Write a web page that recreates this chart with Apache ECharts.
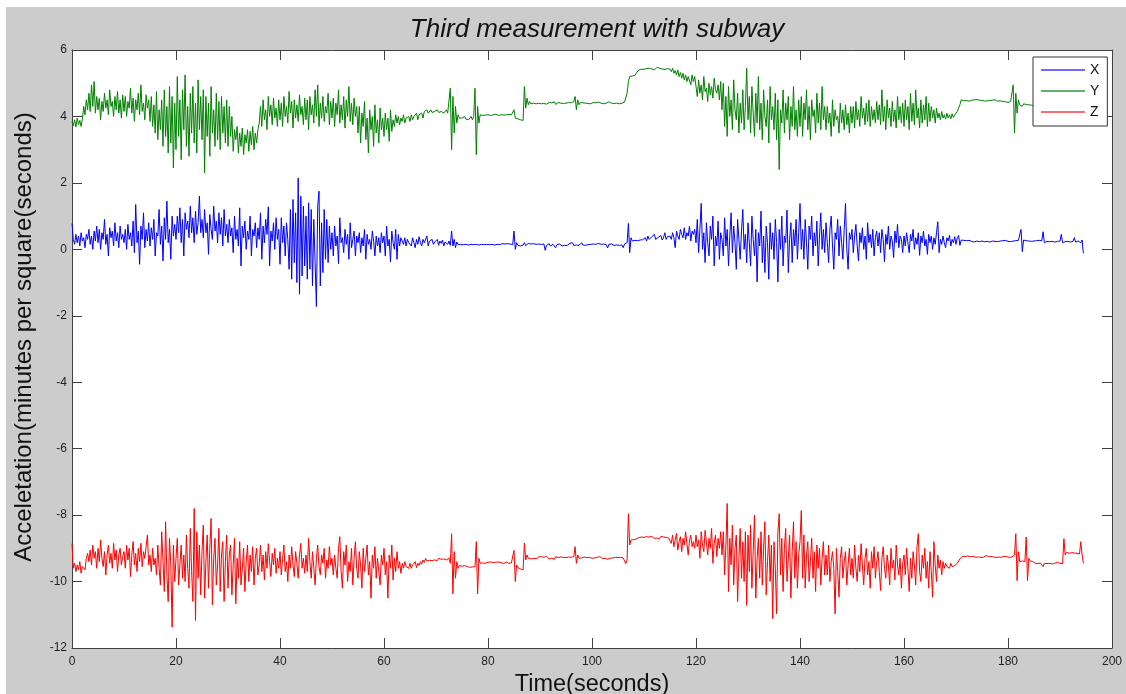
<!DOCTYPE html>
<html>
<head>
<meta charset="utf-8">
<script src="https://cdn.jsdelivr.net/npm/echarts@6/dist/echarts.min.js"></script>
<style>
html,body{margin:0;padding:0;background:#fff;}
#chart{width:1126px;height:694px;}
</style>
</head>
<body>
<div id="chart"></div>
<script>
// Sample spacing (seconds) of the values
const sampleStep = 0.25;

const seriesNames = ['X', 'Y', 'Z'];
const xTicks = [0, 20, 40, 60, 80, 100, 120, 140, 160, 180, 200];
const yTicks = [-12, -10, -8, -6, -4, -2, 0, 2, 4, 6];

const accX = [
 0.78,0.3,0.15,0.45,0.2,0.4,0.1,0.5,0.25,0.35,0.05,0.45,0.3,0.6,0.15,0.4,0.0,0.55,0.25,0.7,
 0.2,0.6,0.0,0.5,0.3,0.9,0.15,0.45,-0.2,0.65,0.35,0.55,0.1,0.8,0.25,0.5,0.05,0.7,0.3,0.45,
 0.2,0.6,0.0,0.75,0.3,0.5,0.1,0.85,-0.1,1.35,0.2,0.55,-0.45,0.7,0.3,1.1,0.05,0.6,0.25,0.8,
 0.1,0.65,0.3,0.9,-0.2,0.5,0.4,1.2,0.15,0.7,-0.35,0.95,0.3,1.45,0.2,0.6,-0.3,1.0,0.4,0.75,
 0.3,1.0,0.5,1.25,0.2,0.9,-0.2,1.1,0.6,0.85,0.35,1.3,0.5,0.95,0.2,1.15,0.45,0.8,1.6,0.5,
 0.9,0.35,1.2,0.5,0.8,-0.15,1.05,0.6,0.3,1.3,0.55,0.85,0.2,1.1,0.45,0.95,0.1,1.2,0.4,0.75,
 0.2,0.9,0.4,0.65,-0.1,1.0,0.3,0.6,0.1,1.25,-0.5,0.7,0.35,0.85,0.0,0.55,0.3,1.0,-0.2,0.6,
 0.4,0.8,0.05,0.65,0.3,1.1,-0.3,0.7,0.2,0.9,0.45,1.28,-0.5,0.55,0.25,0.8,0.0,0.95,0.3,0.6,
 -0.45,0.95,0.2,0.7,-0.2,0.8,0.3,-0.6,1.2,-0.9,1.5,-0.4,1.1,-1.0,2.15,-1.35,1.6,-0.8,1.3,-0.5,
 1.0,-0.9,1.4,-0.6,1.2,-1.1,0.9,-0.4,-1.72,1.3,1.75,-1.1,0.8,-0.7,1.2,-0.3,0.9,-0.4,0.7,0.0,
 0.5,-0.2,0.7,0.1,0.4,-0.43,0.95,0.2,0.35,-0.1,0.6,0.15,0.45,-0.3,0.8,0.05,0.3,0.55,-0.2,0.4,
 0.2,0.5,-0.1,0.35,0.1,0.6,-0.3,0.45,0.15,0.3,0.0,0.55,0.25,-0.2,0.4,0.1,0.35,-0.1,0.5,0.2,
 0.4,-0.2,0.7,0.1,0.3,-0.38,0.55,0.2,0.0,0.6,-0.3,0.45,0.1,0.35,0.25,0.15,0.35,0.1,0.3,0.2,
 0.25,0.1,0.35,0.2,0.05,0.3,0.15,0.38,0.2,0.1,0.3,0.2,0.15,0.4,0.1,0.25,0.2,0.3,0.15,0.22,
 0.2,0.3,0.12,0.25,0.18,0.28,0.1,0.22,0.2,0.15,0.25,0.12,0.55,0.1,0.3,0.05,0.22,0.15,0.18,0.14,
 0.17,0.14,0.18,0.15,0.16,0.13,0.17,0.15,0.18,0.14,0.16,0.15,0.17,0.13,0.16,0.15,0.18,0.14,0.16,0.15,
 0.16,0.14,0.17,0.15,0.16,0.13,0.17,0.15,0.16,0.14,0.15,0.17,0.14,0.16,0.15,0.17,0.14,0.16,0.15,0.14,
 0.55,0.0,0.2,0.12,0.18,0.1,0.16,0.13,0.2,0.11,0.15,0.18,0.12,0.16,0.1,0.17,0.13,0.15,0.12,0.16,
 0.12,0.15,0.1,0.16,-0.03,0.12,0.14,0.17,0.1,0.13,0.15,0.11,0.05,0.14,0.12,0.16,0.13,0.1,0.15,0.12,
 0.14,0.12,0.16,0.18,0.13,0.2,0.12,0.15,0.13,0.17,0.12,0.16,0.2,0.13,0.15,0.12,0.16,0.14,0.12,0.15,
 0.13,0.16,0.12,0.15,0.14,0.18,0.12,0.15,0.13,0.16,0.12,0.14,0.04,0.15,0.13,0.16,0.14,0.12,0.15,0.13,
 0.14,0.12,0.15,0.13,0.05,0.16,0.14,0.2,0.78,-0.1,0.35,0.25,0.3,0.27,0.29,0.26,0.3,0.28,0.27,0.29,
 0.3,0.35,0.25,0.4,0.3,0.28,0.38,0.33,0.45,0.3,0.25,0.36,0.32,0.42,0.28,0.35,0.5,0.3,0.38,0.34,
 0.4,0.3,0.5,0.35,0.05,0.55,0.4,0.3,0.6,0.45,0.35,0.65,0.3,0.5,0.4,0.7,0.25,0.55,0.45,0.6,
 0.2,0.9,-0.1,0.6,1.38,0.0,0.5,-0.4,0.8,0.2,-0.2,0.7,0.3,1.0,-0.5,0.4,0.1,0.85,-0.3,0.5,
 0.3,-0.2,0.95,0.1,0.6,-0.5,0.4,1.1,-0.1,0.7,0.2,-0.6,0.9,0.3,-0.3,0.55,1.2,0.0,0.45,-0.4,
 0.8,0.2,-0.5,1.0,0.3,-0.2,0.6,-0.98,0.5,0.1,1.15,-0.4,0.4,-0.7,0.7,0.2,-0.9,0.8,0.0,0.5,
 -0.3,0.9,0.2,-0.98,0.6,0.0,1.0,-0.5,0.4,0.2,1.18,-0.7,0.3,0.8,-0.4,0.6,0.1,0.9,-0.3,0.5,
 1.38,0.0,0.6,-0.3,0.9,0.2,-0.6,0.7,0.3,1.0,-0.2,0.5,0.1,0.85,-0.5,0.4,1.1,0.0,0.6,-0.1,
 0.8,0.2,-0.4,0.6,1.0,0.1,-0.6,0.5,0.3,0.9,-0.2,0.7,0.2,-0.3,0.6,1.38,0.0,-0.6,0.5,0.3,
 0.6,-0.1,0.4,0.75,0.1,-0.35,0.5,0.2,0.65,0.0,0.4,-0.3,0.8,0.2,0.45,0.05,0.6,-0.2,0.35,0.55,
 0.1,0.5,-0.1,0.6,0.3,-0.38,0.45,0.15,0.7,0.0,0.4,0.25,-0.25,0.55,0.2,0.75,0.05,0.4,0.3,-0.1,
 0.4,0.1,0.5,0.2,-0.1,0.45,0.25,0.6,0.0,0.35,0.15,0.5,-0.18,0.4,0.2,0.55,0.1,0.3,-0.15,0.45,
 0.2,0.4,0.0,0.35,0.15,0.5,0.83,-0.1,0.3,0.15,0.4,0.2,0.05,0.35,0.25,0.42,0.1,0.3,0.2,0.38,
 0.15,0.35,0.42,0.12,0.28,0.22,0.27,0.24,0.26,0.23,0.27,0.25,0.24,0.28,0.22,0.26,0.25,0.27,0.23,0.26,
 0.25,0.27,0.23,0.26,0.24,0.28,0.22,0.26,0.25,0.27,0.24,0.26,0.23,0.27,0.25,0.24,0.26,0.22,0.27,0.25,
 0.24,0.26,0.23,0.27,0.25,0.24,0.26,0.23,0.27,0.25,0.6,-0.07,0.28,0.24,0.26,0.23,0.25,0.27,0.24,0.26,
 0.25,0.23,0.26,0.24,0.27,0.22,0.26,0.53,0.2,0.25,0.24,0.27,0.23,0.26,0.24,0.25,0.22,0.27,0.24,0.26,
 0.25,0.45,0.2,0.26,0.23,0.27,0.24,0.3,0.22,0.26,0.24,0.35,0.22,0.27,0.25,0.3,0.2,0.28,-0.12
];

const accY = [
 3.85,3.72,3.9,3.68,3.95,3.75,3.88,3.7,3.92,4.3,4.05,4.5,4.2,4.7,4.15,4.95,4.3,5.05,4.1,4.6,
 4.2,4.55,3.9,4.45,4.15,4.7,4.25,4.5,4.05,4.8,4.3,4.45,4.0,4.6,4.2,4.75,4.1,4.5,3.95,4.65,
 4.15,4.6,4.0,4.45,4.25,4.85,4.1,4.55,3.85,4.5,4.2,4.7,4.05,4.95,4.15,4.4,3.9,4.65,4.25,4.5,
 3.85,4.6,3.7,4.35,3.5,4.75,3.3,4.2,3.6,4.5,3.1,4.8,3.4,4.3,2.9,4.9,3.2,4.6,2.45,4.4,
 3.0,5.2,3.4,4.5,2.7,4.8,3.6,5.25,3.1,4.3,2.8,4.7,3.5,4.9,3.2,4.4,2.9,5.1,3.6,4.6,
 3.3,4.8,2.3,4.6,3.4,4.4,2.8,4.9,3.5,4.2,3.1,4.7,3.3,4.45,3.0,4.6,3.5,4.3,3.2,4.5,
 3.1,4.3,3.4,4.0,2.95,3.6,3.3,3.7,2.9,3.5,3.1,3.65,2.85,3.45,3.2,3.6,2.95,3.55,3.15,3.7,
 3.0,3.5,3.2,3.6,3.8,4.3,3.7,4.5,3.9,4.2,3.6,4.6,4.0,4.35,3.75,4.55,3.95,4.25,3.7,4.5,
 3.9,4.4,3.7,4.6,4.0,4.3,3.8,4.75,4.1,4.45,3.65,4.5,3.95,4.35,3.85,4.65,4.05,4.3,3.75,4.55,
 3.9,4.5,3.6,4.6,4.05,4.35,3.8,4.8,4.0,4.95,3.7,4.4,3.95,4.6,3.85,4.3,4.1,4.7,3.75,4.45,
 3.95,4.55,3.7,4.4,4.05,4.8,3.8,4.35,3.9,4.6,3.65,4.5,4.0,4.9,3.85,4.4,3.75,4.55,4.0,4.3,
 3.5,4.3,3.2,4.1,3.7,4.45,3.3,3.95,2.9,4.2,3.6,4.0,3.1,4.35,3.5,3.9,3.2,4.25,3.6,3.95,
 3.4,4.1,3.6,3.95,3.25,4.2,3.55,3.9,3.7,4.05,3.8,4.0,3.75,3.95,3.85,4.05,3.8,3.95,3.9,4.0,
 3.85,4.05,3.9,4.0,3.95,4.1,3.9,4.05,4.0,4.1,3.95,4.15,4.1,4.2,4.1,4.15,4.2,4.12,4.18,4.15,
 4.15,4.2,4.12,4.18,4.15,4.2,4.1,4.15,4.2,4.1,4.15,4.85,3.0,4.6,3.5,4.3,3.8,4.05,3.95,4.0,
 3.95,3.9,4.0,3.92,3.97,3.9,3.95,4.0,3.9,4.0,4.85,2.85,4.3,3.8,4.05,4.08,4.03,4.06,4.04,4.07,
 4.05,4.07,4.03,4.06,4.05,4.04,4.07,4.05,4.03,4.06,4.05,4.07,4.04,4.06,4.05,4.03,4.06,4.04,4.05,4.0,
 4.2,3.95,4.0,3.93,3.95,3.9,3.92,3.88,4.9,4.25,4.55,4.35,4.45,4.38,4.42,4.4,4.43,4.38,4.41,4.4,
 4.42,4.38,4.41,4.39,4.43,4.37,4.4,4.42,4.38,4.41,4.39,4.44,4.36,4.4,4.42,4.38,4.4,4.43,4.39,4.41,
 4.4,4.38,4.42,4.39,4.41,4.37,4.45,4.6,4.2,4.5,4.35,4.42,4.39,4.41,4.38,4.4,4.42,4.39,4.41,4.38,
 4.4,4.42,4.38,4.41,4.39,4.43,4.38,4.4,4.41,4.38,4.42,4.4,4.39,4.44,4.38,4.4,4.42,4.39,4.41,4.4,
 4.41,4.38,4.42,4.4,4.39,4.43,4.45,4.7,5.05,5.2,5.17,5.22,5.18,5.23,5.3,5.36,5.4,5.38,5.42,5.4,
 5.42,5.38,5.44,5.41,5.45,5.39,5.43,5.46,5.4,5.44,5.48,5.42,5.45,5.5,5.43,5.47,5.41,5.46,5.44,5.4,
 5.42,5.35,5.45,5.3,5.38,5.25,5.4,5.2,5.32,5.15,5.3,5.1,5.25,5.05,5.2,5.15,4.95,5.25,5.05,5.2,
 4.9,4.6,5.1,4.7,4.95,4.5,5.2,4.75,4.85,4.45,5.0,4.65,4.9,4.55,5.15,4.8,4.7,4.95,4.5,5.05,
 4.2,5.0,3.7,4.6,3.4,4.9,4.0,4.5,3.6,5.1,4.2,3.9,4.7,3.5,4.4,3.8,4.8,3.6,4.3,5.45,
 3.9,4.6,3.5,4.9,4.1,3.4,4.7,3.8,5.2,3.6,4.4,3.3,4.8,4.0,3.7,4.5,3.2,4.9,3.9,4.3,
 3.6,4.7,3.3,4.5,2.4,4.2,3.8,4.8,3.5,4.4,3.9,4.6,3.3,4.3,3.7,4.9,3.6,4.2,3.4,4.5,
 3.7,4.6,3.4,4.4,3.9,4.8,3.6,4.3,3.3,4.5,4.0,4.2,3.5,4.7,3.8,4.4,3.6,4.9,3.9,4.3,
 3.6,4.3,3.8,4.1,3.4,4.5,3.7,4.2,3.9,4.0,3.5,4.4,3.8,4.2,3.6,4.35,3.75,4.1,3.5,4.3,
 3.8,4.3,3.65,4.45,3.9,4.2,3.7,4.6,3.95,4.25,3.75,4.4,3.85,4.5,3.7,4.3,3.9,4.2,3.8,4.45,
 3.9,4.35,3.75,4.8,3.85,4.3,3.6,4.5,3.95,4.25,3.7,4.45,3.85,4.2,3.65,4.6,3.9,4.3,3.8,4.4,
 3.7,4.5,3.9,4.3,3.6,4.7,3.85,4.4,3.75,4.8,3.95,4.25,3.65,4.5,3.8,4.35,3.9,4.6,3.7,4.4,
 3.85,4.3,3.95,4.2,3.8,4.25,3.95,4.1,3.9,4.15,3.95,4.05,3.92,4.1,3.95,4.05,3.93,4.08,3.97,4.05,
 4.05,4.15,4.25,4.35,4.5,4.55,4.47,4.5,4.48,4.52,4.46,4.5,4.49,4.47,4.5,4.48,4.51,4.46,4.49,4.48,
 4.48,4.5,4.46,4.49,4.47,4.5,4.48,4.46,4.49,4.47,4.5,4.48,4.46,4.49,4.47,4.48,4.45,4.42,4.44,4.4,
 4.42,4.38,4.45,4.4,4.95,3.5,4.7,4.1,4.5,4.35,4.4,4.3,4.38,4.33,4.36,4.32,4.35,4.3,4.34,4.32,
 4.3,4.34,4.28,4.32,4.3,4.35,4.27,4.31,4.33,4.29,4.32,4.3,4.34,4.28,4.31,4.3,4.33,4.29,4.32,4.3,
 4.31,4.29,4.33,4.3,4.28,4.32,4.3,4.34,4.29,4.31,4.3,4.33,4.28,4.31,4.3,4.32,4.29,4.31,4.3
];

const accZ = [
 -8.86,-9.6,-9.45,-9.7,-9.5,-9.65,-9.4,-9.75,-9.55,-9.5,-9.65,-9.3,-9.15,-9.4,-9.05,-9.5,-8.9,-9.3,-9.1,-9.6,
 -9.0,-9.4,-8.75,-9.3,-9.55,-9.1,-9.8,-9.2,-8.9,-9.45,-9.15,-9.6,-8.85,-9.35,-9.05,-9.7,-9.2,-9.0,-9.5,-9.25,
 -9.1,-9.6,-8.9,-9.35,-9.0,-9.85,-9.2,-8.8,-9.5,-9.15,-9.7,-9.0,-9.4,-8.85,-9.55,-9.1,-9.3,-8.95,-8.6,-9.5,
 -9.2,-9.7,-9.0,-9.5,-9.3,-9.8,-8.9,-9.6,-10.1,-8.5,-9.4,-10.3,-8.2,-9.8,-10.6,-8.7,-9.5,-11.37,-8.9,-10.0,
 -9.3,-8.7,-10.1,-9.5,-8.9,-9.9,-9.2,-10.0,-8.6,-9.6,-10.2,-8.4,-9.7,-10.6,-7.8,-11.17,-8.5,-9.9,-8.9,-10.4,
 -9.1,-8.3,-10.5,-9.4,-8.6,-10.2,-9.0,-8.1,-10.7,-9.3,-8.7,-10.1,-9.5,-8.4,-10.3,-9.2,-8.8,-10.6,-9.4,-8.6,
 -10.2,-9.2,-8.9,-10.4,-9.5,-8.7,-10.67,-9.3,-9.9,-8.8,-10.1,-9.6,-9.0,-10.3,-9.4,-8.9,-10.0,-9.2,-9.7,-8.95,
 -10.1,-9.3,-9.0,-9.8,-9.5,-8.9,-9.7,-9.2,-9.95,-9.1,-9.6,-8.86,-9.4,-9.85,-9.15,-9.5,-9.0,-9.75,-9.3,-9.6,
 -9.1,-9.8,-9.3,-8.9,-9.7,-9.4,-10.0,-9.2,-9.6,-8.95,-9.5,-9.85,-9.1,-9.45,-9.9,-9.2,-8.85,-9.6,-9.3,-9.75,
 -9.2,-9.7,-8.7,-9.4,-9.9,-9.1,-9.6,-10.1,-9.3,-8.9,-9.55,-9.8,-9.2,-9.45,-9.0,-9.9,-9.35,-9.6,-8.95,-9.5,
 -9.3,-9.8,-9.2,-9.6,-9.9,-9.0,-8.65,-9.7,-10.2,-9.1,-9.5,-8.9,-10.0,-9.4,-9.7,-9.0,-10.1,-9.3,-8.8,-9.6,
 -9.9,-9.1,-9.5,-10.2,-9.0,-9.7,-9.3,-8.9,-9.8,-9.4,-10.5,-9.2,-9.6,-8.95,-9.9,-9.3,-9.7,-10.1,-9.2,-9.5,
 -9.0,-9.8,-9.4,-10.5,-9.2,-9.6,-8.9,-9.95,-9.3,-9.7,-9.1,-9.6,-9.4,-9.75,-9.45,-9.6,-9.4,-9.55,-9.5,-9.6,
 -9.45,-9.6,-9.5,-9.55,-9.4,-9.58,-9.45,-9.52,-9.4,-9.48,-9.35,-9.42,-9.3,-9.38,-9.32,-9.36,-9.3,-9.37,-9.33,-9.35,
 -9.34,-9.37,-9.3,-9.36,-9.33,-9.38,-9.32,-9.36,-9.35,-9.4,-9.3,-9.45,-8.56,-10.37,-9.1,-9.9,-9.4,-9.6,-9.52,-9.56,
 -9.54,-9.58,-9.52,-9.56,-9.55,-9.5,-9.57,-9.53,-9.56,-9.5,-9.55,-8.8,-10.37,-9.3,-9.45,-9.42,-9.44,-9.41,-9.45,-9.43,
 -9.42,-9.45,-9.41,-9.44,-9.43,-9.46,-9.42,-9.44,-9.41,-9.45,-9.43,-9.42,-9.46,-9.44,-9.41,-9.43,-9.45,-9.42,-9.44,-9.43,
 -9.06,-10.0,-9.5,-9.58,-9.55,-9.62,-9.58,-9.65,-8.84,-9.35,-9.2,-9.3,-9.25,-9.32,-9.27,-9.3,-9.24,-9.31,-9.28,-9.26,
 -9.28,-9.25,-9.31,-9.27,-9.3,-9.24,-9.29,-9.32,-9.26,-9.3,-9.27,-9.33,-9.25,-9.29,-9.28,-9.31,-9.26,-9.3,-9.27,-9.29,
 -9.28,-9.3,-9.26,-9.31,-9.27,-9.3,-9.25,-8.95,-9.45,-9.2,-9.3,-9.27,-9.29,-9.31,-9.26,-9.3,-9.28,-9.32,-9.27,-9.29,
 -9.3,-9.26,-9.29,-9.32,-9.27,-9.3,-9.25,-9.28,-9.31,-9.27,-9.3,-9.26,-9.33,-9.28,-9.3,-9.25,-9.29,-9.31,-9.27,-9.3,
 -9.28,-9.3,-9.27,-9.32,-9.29,-9.31,-9.46,-9.35,-7.96,-8.9,-8.75,-8.8,-8.74,-8.78,-8.72,-8.7,-8.68,-8.7,-8.66,-8.69,
 -8.67,-8.7,-8.65,-8.69,-8.66,-8.72,-8.64,-8.68,-8.7,-8.65,-8.69,-8.67,-8.71,-8.64,-8.68,-8.66,-8.7,-8.67,-8.65,-8.69,
 -8.7,-8.85,-8.6,-8.95,-8.75,-8.55,-9.05,-8.8,-8.65,-9.1,-8.7,-8.9,-8.5,-8.85,-9.2,-8.75,-8.6,-8.95,-8.8,-9.0,
 -8.6,-8.95,-8.75,-9.3,-8.5,-8.9,-9.1,-8.46,-8.8,-9.2,-8.7,-9.0,-8.4,-9.45,-8.85,-8.6,-9.25,-8.7,-9.0,-8.5,
 -9.2,-8.5,-9.8,-8.9,-7.65,-10.3,-8.7,-9.5,-8.3,-10.1,-9.0,-8.6,-10.6,-9.3,-8.4,-9.9,-8.8,-10.0,-8.5,-10.72,
 -8.6,-9.7,-8.3,-10.2,-9.1,-8.0,-10.5,-9.3,-8.7,-9.9,-8.5,-10.1,-9.0,-8.2,-10.4,-9.4,-8.6,-10.0,-8.9,-11.12,
 -8.8,-9.6,-10.97,-8.5,-7.96,-9.8,-8.7,-10.3,-9.0,-8.4,-10.0,-9.3,-8.6,-10.5,-9.1,-8.2,-9.9,-8.8,-10.2,-9.2,
 -8.8,-7.86,-9.9,-8.6,-10.2,-9.2,-8.8,-10.0,-9.4,-8.7,-9.9,-9.1,-10.3,-8.9,-9.6,-9.0,-10.1,-9.3,-8.8,-9.8,
 -9.2,-9.8,-8.9,-10.0,-9.4,-9.1,-9.6,-10.97,-9.0,-9.7,-10.47,-9.3,-8.95,-9.9,-9.4,-9.1,-10.1,-9.5,-9.0,-9.8,
 -9.3,-9.9,-8.9,-9.6,-10.0,-9.2,-9.7,-8.86,-9.5,-10.1,-9.3,-9.0,-9.8,-9.4,-10.2,-9.1,-9.6,-8.95,-9.9,-9.4,
 -9.1,-9.7,-10.27,-9.3,-8.95,-9.6,-9.9,-9.2,-9.5,-10.1,-9.0,-9.6,-9.35,-9.95,-8.9,-9.5,-9.8,-9.3,-10.2,-9.45,
 -9.2,-9.8,-9.0,-9.6,-10.3,-9.3,-9.9,-9.1,-9.5,-10.1,-8.95,-8.56,-9.7,-10.0,-9.2,-9.6,-9.0,-9.9,-9.4,-10.2,
 -9.1,-9.7,-10.47,-8.8,-9.5,-10.0,-9.2,-9.6,-9.35,-9.8,-9.4,-9.6,-9.45,-9.55,-9.5,-9.6,-9.45,-9.55,-9.5,-9.52,
 -9.5,-9.45,-9.4,-9.32,-9.26,-9.24,-9.28,-9.25,-9.27,-9.23,-9.26,-9.25,-9.28,-9.24,-9.26,-9.27,-9.23,-9.26,-9.25,-9.27,
 -9.24,-9.27,-9.25,-9.22,-9.26,-9.24,-9.27,-9.25,-9.23,-9.26,-9.25,-9.28,-9.24,-9.26,-9.23,-9.27,-9.25,-9.24,-9.26,-9.25,
 -9.25,-9.27,-9.24,-9.26,-9.3,-9.2,-8.56,-9.97,-9.1,-9.4,-9.36,-9.38,-9.35,-9.4,-8.66,-9.97,-9.3,-9.38,-9.36,-9.4,
 -9.42,-9.45,-9.43,-9.46,-9.41,-9.44,-9.47,-9.55,-9.45,-9.43,-9.46,-9.42,-9.45,-9.44,-9.47,-9.43,-9.45,-9.46,-9.42,-9.44,
 -9.45,-9.43,-9.46,-8.71,-9.2,-9.12,-9.18,-9.15,-9.2,-9.13,-9.17,-9.14,-9.19,-9.15,-9.12,-9.17,-8.8,-9.2,-9.45
];

const seriesColors = ['#0000ff', '#008000', '#ff0000'];
const legendColors = ['#6b6bff', '#66b066', '#ff6b6b'];

function pairs(vals) {
  return vals.map((v, i) => [i * sampleStep, v]);
}

const chart = echarts.init(document.getElementById('chart'), null, {renderer: 'canvas'});
const font = "'Liberation Sans', Arial, sans-serif";
const axisCol = '#404040';

const baseX = {
  type: 'value', min: xTicks[0], max: xTicks[xTicks.length - 1], interval: 20,
  axisLine: {show: true, onZero: false, lineStyle: {color: axisCol, width: 1}},
  axisTick: {show: true, inside: true, length: 10, lineStyle: {color: axisCol}},
  splitLine: {show: false}
};
const baseY = {
  type: 'value', min: yTicks[0], max: yTicks[yTicks.length - 1], interval: 2,
  axisLine: {show: true, onZero: false, lineStyle: {color: axisCol, width: 1}},
  axisTick: {show: true, inside: true, length: 10, lineStyle: {color: axisCol}},
  splitLine: {show: false}
};

chart.setOption({
  animation: false,
  backgroundColor: '#cccccc',
  title: {
    text: 'Third measurement with subway',
    left: 592, top: 12, textAlign: 'center',
    textStyle: {fontFamily: font, fontStyle: 'italic', fontWeight: 'normal', fontSize: 26, color: '#111'}
  },
  graphic: [
    {type: 'rect', left: 0, top: 0, shape: {width: 1126, height: 7}, style: {fill: '#ffffff'}, silent: true},
    {type: 'rect', left: 0, top: 0, shape: {width: 6, height: 694}, style: {fill: '#ffffff'}, silent: true},
    {
      type: 'text', x: 24, y: 337, rotation: Math.PI / 2, silent: true,
      style: {
        text: 'Acceletation(minutes per square(seconds)',
        font: "24px 'Liberation Sans', Arial, sans-serif",
        fill: '#111',
        align: 'center', verticalAlign: 'middle',
        textAlign: 'center', textVerticalAlign: 'middle'
      }
    }
  ],
  legend: {
    data: seriesNames.map((n, k) => ({name: n, itemStyle: {color: legendColors[k]}})),
    left: 1033, top: 57,
    orient: 'vertical',
    backgroundColor: '#ffffff',
    borderColor: '#333',
    borderWidth: 1,
    padding: [6, 8, 7, 8],
    itemGap: 7,
    itemWidth: 44,
    itemHeight: 2,
    icon: 'rect',
    textStyle: {fontFamily: font, fontSize: 14, color: '#111'},
    z: 10
  },
  grid: {
    left: 72, top: 50, right: 14, bottom: 46,
    outerBoundsMode: 'none',
    containLabel: false,
    show: true, backgroundColor: '#ffffff', borderWidth: 0
  },
  xAxis: [
    Object.assign({}, baseX, {
      position: 'bottom',
      name: 'Time(seconds)', nameLocation: 'middle', nameGap: 22,
      nameTextStyle: {fontFamily: font, fontSize: 23.5, color: '#111'},
      axisLabel: {show: true, margin: 8, fontFamily: font, fontSize: 12, color: '#222'}
    }),
    Object.assign({}, baseX, {position: 'top', axisLabel: {show: false}})
  ],
  yAxis: [
    Object.assign({}, baseY, {
      position: 'left',
      axisLabel: {show: true, margin: 5, fontFamily: font, fontSize: 12, color: '#222'}
    }),
    Object.assign({}, baseY, {position: 'right', axisLabel: {show: false}})
  ],
  series: [accX, accY, accZ].map((vals, k) => ({
    name: seriesNames[k],
    type: 'line',
    data: pairs(vals),
    showSymbol: false,
    symbol: 'none',
    color: seriesColors[k],
    lineStyle: {width: 1, color: seriesColors[k]},
    z: 2 + k
  }))
});
</script>
</body>
</html>
